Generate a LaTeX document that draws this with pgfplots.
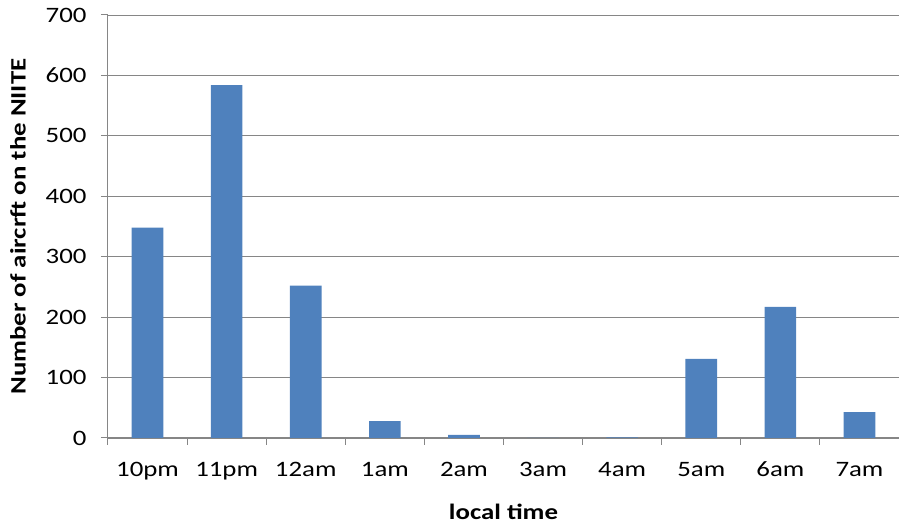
\documentclass[border=0pt]{standalone}
\usepackage{pgfplots}
\pgfplotsset{compat=1.18}
\usepackage{fontspec}
\setmainfont{Carlito}[FakeStretch=1.22]
\definecolor{barblue}{HTML}{4F81BD}
\definecolor{axgray}{HTML}{868686}
\begin{document}
\fontsize{22}{26}\selectfont
\begin{tikzpicture}
\path[use as bounding box] (-108pt,-91pt) rectangle (791pt,438pt);
\begin{axis}[
  at={(0pt,0pt)}, anchor=south west,
  scale only axis,
  width=791pt, height=423pt,
  xmin=-0.5, xmax=9.5,
  ymin=0, ymax=700,
  ytick={0,100,...,700},
  xtick={-0.5,0.5,...,9.5},
  x tick label as interval,
  xticklabels={10pm,11pm,12am,1am,2am,3am,4am,5am,6am,7am},
  axis x line*=bottom, axis y line*=left,
  axis line style={draw=axgray, line width=1pt, -},
  ymajorgrids, grid style={draw=axgray, line width=0.8pt},
  tick style={draw=axgray, line width=1pt},
  tick align=outside, major tick length=7pt,
  xticklabel style={anchor=base, yshift=-32pt},
  yticklabel style={anchor=east, xshift=-7pt},
  /pgf/number format/assume math mode=true,
  ticklabel style={font=\fontsize{22}{26}\selectfont},
  label style={font=\fontsize{22}{26}\selectfont\bfseries},
  xlabel={local time},
  ylabel={Number of aircrft on the NIITE},
  xlabel style={at={(axis description cs:0.5,0)}, anchor=base, yshift=-82pt},
  ylabel style={at={(axis description cs:-0.1138,0.5)}, anchor=center},
  clip=false,
]
\addplot[ybar, bar width=0.4, fill=barblue, draw=none] coordinates {
(0,348) (1,584) (2,252) (3,28) (4,5) (5,0) (6,1) (7,131) (8,217) (9,43)
};
\end{axis}
\end{tikzpicture}
\end{document}
